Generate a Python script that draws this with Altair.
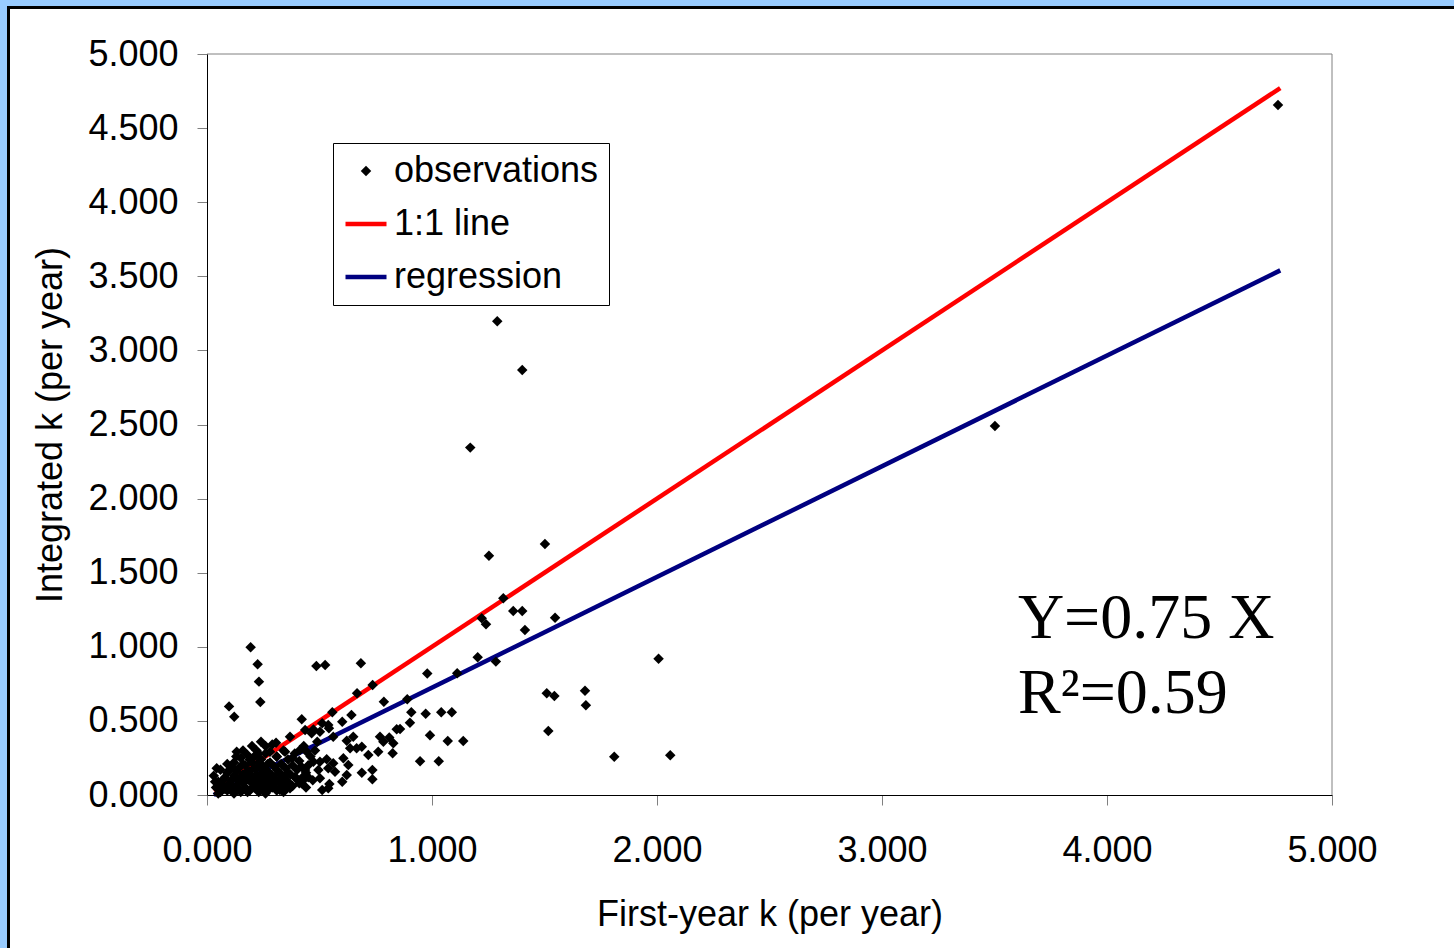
import altair as alt
import pandas as pd

# ---------------- data ----------------
obs_x = [
    4.760, 3.502, 1.290, 1.401, 1.170, 1.253, 1.502, 1.317, 1.221, 1.240,
    1.361, 1.401, 1.547, 1.413, 1.203, 1.284, 1.112, 2.007, 1.510, 1.544,
    1.680, 1.684, 1.517, 1.810, 2.059, 0.979, 0.890, 0.908, 0.972, 1.041,
    1.088, 0.902, 0.858, 0.991, 1.070, 1.139, 0.947, 1.030, 0.194, 0.225,
    0.231, 0.237, 0.098, 0.121, 0.486, 0.525, 0.684, 0.736, 0.667, 0.557,
    0.786, 0.421, 0.642, 0.601, 0.512, 0.542, 0.436, 0.465, 0.843, 0.561,
    0.621, 0.650, 0.769, 0.810, 0.784, 0.828, 0.636, 0.665, 0.688, 0.717,
    0.761, 0.825, 0.606, 0.502, 0.532, 0.561, 0.628, 0.539, 0.569, 0.688,
    0.735, 0.436, 0.428, 0.621, 0.735, 0.601, 0.544, 0.512, 0.473, 0.502,
    0.539, 0.369, 0.307, 0.413, 0.443, 0.347, 0.132, 0.228, 0.280, 0.310,
    0.043, 0.473, 0.495, 0.502, 0.436, 0.539, 0.324, 0.369, 0.036,
    # dense cluster near the origin
    0.04, 0.05, 0.06, 0.07, 0.08, 0.09, 0.10, 0.10, 0.11, 0.12,
    0.12, 0.13, 0.14, 0.14, 0.15, 0.15, 0.16, 0.16, 0.17, 0.17,
    0.18, 0.18, 0.19, 0.19, 0.20, 0.20, 0.21, 0.21, 0.22, 0.22,
    0.23, 0.23, 0.24, 0.24, 0.25, 0.25, 0.26, 0.26, 0.27, 0.27,
    0.28, 0.28, 0.29, 0.29, 0.30, 0.30, 0.31, 0.31, 0.32, 0.33,
    0.33, 0.34, 0.34, 0.35, 0.35, 0.36, 0.36, 0.37, 0.38, 0.38,
    0.39, 0.40, 0.40, 0.41, 0.42, 0.43, 0.44, 0.45, 0.46, 0.47,
    0.48, 0.49, 0.03, 0.06, 0.09, 0.13, 0.20, 0.24,
    0.05, 0.07, 0.08, 0.09, 0.11, 0.11, 0.12, 0.13, 0.14, 0.15,
    0.16, 0.17, 0.18, 0.18, 0.19, 0.20, 0.21, 0.22, 0.22, 0.23,
    0.24, 0.25, 0.25, 0.26, 0.27, 0.27, 0.28, 0.29, 0.30, 0.31,
    0.31, 0.32, 0.33, 0.34, 0.35, 0.36, 0.37, 0.38, 0.39, 0.41,
    0.42, 0.44, 0.45, 0.16, 0.26, 0.21,
]
obs_y = [
    4.656, 2.490, 3.197, 2.868, 2.344, 1.615, 1.694, 1.327, 1.192, 1.152,
    1.241, 1.241, 1.196, 1.113, 0.929, 0.900, 0.821, 0.920, 0.686, 0.668,
    0.704, 0.606, 0.432, 0.258, 0.269, 0.820, 0.646, 0.558, 0.548, 0.558,
    0.558, 0.488, 0.445, 0.403, 0.364, 0.364, 0.228, 0.228, 0.997, 0.882,
    0.765, 0.628, 0.598, 0.528, 0.870, 0.877, 0.889, 0.742, 0.686, 0.558,
    0.629, 0.511, 0.540, 0.494, 0.484, 0.450, 0.439, 0.416, 0.443, 0.393,
    0.366, 0.393, 0.393, 0.388, 0.360, 0.349, 0.315, 0.315, 0.326, 0.270,
    0.292, 0.281, 0.248, 0.225, 0.241, 0.214, 0.202, 0.180, 0.157, 0.150,
    0.169, 0.169, 0.124, 0.135, 0.106, 0.090, 0.074, 0.034, 0.442, 0.427,
    0.472, 0.393, 0.353, 0.304, 0.292, 0.292, 0.292, 0.281, 0.292, 0.258,
    0.180, 0.225, 0.169, 0.113, 0.113, 0.045, 0.034, 0.045, 0.090,
    # dense cluster near the origin
    0.05, 0.09, 0.02, 0.06, 0.12, 0.03, 0.08, 0.17, 0.04, 0.13,
    0.22, 0.06, 0.10, 0.18, 0.02, 0.25, 0.08, 0.14, 0.20, 0.05,
    0.11, 0.27, 0.03, 0.16, 0.08, 0.22, 0.12, 0.05, 0.18, 0.30,
    0.09, 0.02, 0.14, 0.24, 0.06, 0.19, 0.11, 0.28, 0.03, 0.16,
    0.08, 0.22, 0.13, 0.34, 0.05, 0.19, 0.10, 0.26, 0.15, 0.07,
    0.21, 0.12, 0.30, 0.04, 0.18, 0.09, 0.24, 0.14, 0.20, 0.06,
    0.28, 0.11, 0.17, 0.23, 0.08, 0.33, 0.15, 0.20, 0.26, 0.10,
    0.30, 0.36, 0.13, 0.17, 0.21, 0.26, 0.33, 0.36,
    0.01, 0.10, 0.04, 0.15, 0.10, 0.19, 0.01, 0.16, 0.04, 0.12,
    0.21, 0.10, 0.02, 0.16, 0.24, 0.12, 0.18, 0.07, 0.13, 0.22,
    0.04, 0.10, 0.16, 0.01, 0.09, 0.21, 0.14, 0.05, 0.11, 0.03,
    0.17, 0.09, 0.14, 0.02, 0.10, 0.15, 0.06, 0.25, 0.12, 0.08,
    0.19, 0.05, 0.12, 0.30, 0.33, 0.26,
]

line_x = [0.03, 4.77]
one_to_one_y = [0.03, 4.77]
regression_y = [0.0, 3.54]

series_names = ["observations", "1:1 line", "regression"]
series_colors = ["#000000", "#FF0000", "#000080"]

x_ticks = [0.0, 1.0, 2.0, 3.0, 4.0, 5.0]
y_ticks = [0.0, 0.5, 1.0, 1.5, 2.0, 2.5, 3.0, 3.5, 4.0, 4.5, 5.0]

ann_text = ["Y=0.75 X", "R\u00b2=0.59"]
ann_x = [3.604, 3.604]
ann_y = [1.06, 0.553]

# ---------------- tables ----------------
obs_df = pd.DataFrame({"x": obs_x, "y": obs_y, "series": series_names[0]})
lines_df = pd.DataFrame({
    "x": line_x + line_x,
    "y": one_to_one_y + regression_y,
    "series": [series_names[1]] * len(line_x) + [series_names[2]] * len(line_x),
})
ann_df = pd.DataFrame({"text": ann_text, "x": ann_x, "y": ann_y})

W, H = 1125, 741
FONT = "Liberation Sans"

xscale = alt.Scale(domain=[0, 5], nice=False, zero=False)
yscale = alt.Scale(domain=[0, 5], nice=False, zero=False)

xaxis = alt.Axis(values=x_ticks, format=".3f", title="First-year k (per year)",
                 labelPadding=28, titlePadding=29, zindex=1)
yaxis = alt.Axis(values=y_ticks, format=".3f", title="Integrated k (per year)",
                 labelPadding=19, titlePadding=18, zindex=1)

legend = alt.Legend(
    title=None, orient="none", legendX=126, legendY=89, padding=10,
    strokeColor="#000000", fillColor="#FFFFFF",
    labelFont=FONT, labelFontSize=36, labelColor="#000000", labelLimit=500,
    labelOffset=5, rowPadding=12, symbolOffset=0,
)

dom = series_names
fill_enc = alt.Fill("series:N", scale=alt.Scale(domain=dom, range=series_colors), legend=legend)
stroke_enc = alt.Stroke("series:N", scale=alt.Scale(domain=dom, range=series_colors), legend=legend)
shape_enc = alt.Shape("series:N", scale=alt.Scale(domain=dom, range=["diamond", "stroke", "stroke"]), legend=legend)
size_enc = alt.Size("series:N", scale=alt.Scale(type="ordinal", domain=dom, range=[110, 1681, 1681]), legend=legend)
sw_enc = alt.StrokeWidth("series:N", scale=alt.Scale(type="ordinal", domain=dom, range=[0, 4.5, 4.5]), legend=legend)

# white panel with a black border (the blue page shows at top/left)
panel = alt.Chart(pd.DataFrame({"a": [0]})).mark_rect(
    fill="#FFFFFF", stroke="#000000", strokeWidth=3
).encode(
    x=alt.value(-198.5), y=alt.value(-46.5), x2=alt.value(W + 300), y2=alt.value(H + 300)
)

frame_top = alt.Chart(pd.DataFrame({"a": [0]})).mark_rule(color="#808080", strokeWidth=1).encode(
    x=alt.datum(0, scale=xscale), x2=alt.datum(5), y=alt.datum(5, scale=yscale)
)
frame_right = alt.Chart(pd.DataFrame({"a": [0]})).mark_rule(color="#808080", strokeWidth=1).encode(
    x=alt.datum(5, scale=xscale), y=alt.datum(0, scale=yscale), y2=alt.datum(5)
)

lines = alt.Chart(lines_df).mark_line(strokeCap="butt").encode(
    x=alt.X("x:Q", scale=xscale, axis=xaxis),
    y=alt.Y("y:Q", scale=yscale, axis=yaxis),
    stroke=stroke_enc,
    strokeWidth=sw_enc,
)

points = alt.Chart(obs_df).mark_point(filled=True, opacity=1).encode(
    x=alt.X("x:Q", scale=xscale, axis=xaxis),
    y=alt.Y("y:Q", scale=yscale, axis=yaxis),
    fill=fill_enc,
    stroke=stroke_enc,
    shape=shape_enc,
    size=size_enc,
    strokeWidth=sw_enc,
)

ann = alt.Chart(ann_df).mark_text(
    font="Liberation Serif", fontSize=64, align="left", baseline="alphabetic", color="#000000"
).encode(
    x=alt.X("x:Q", scale=xscale), y=alt.Y("y:Q", scale=yscale), text="text:N"
)

chart = alt.layer(panel, frame_top, frame_right, lines, points, ann).properties(
    width=W, height=H,
    background="#99CCFF",
    padding={"left": 207, "top": 54, "right": 122, "bottom": 153},
    autosize=alt.AutoSizeParams(type="none"),
).configure_view(
    stroke=None
).configure_axis(
    grid=False, domainColor="#000000", domainWidth=1, tickColor="#808080", tickSize=10,
    labelFont=FONT, labelFontSize=36, labelColor="#000000", labelFlush=False,
    labelOverlap=False,
    titleFont=FONT, titleFontSize=36, titleFontWeight="normal", titleColor="#000000",
)

chart.save("out.html", embed_options={"renderer": "svg", "actions": False})
